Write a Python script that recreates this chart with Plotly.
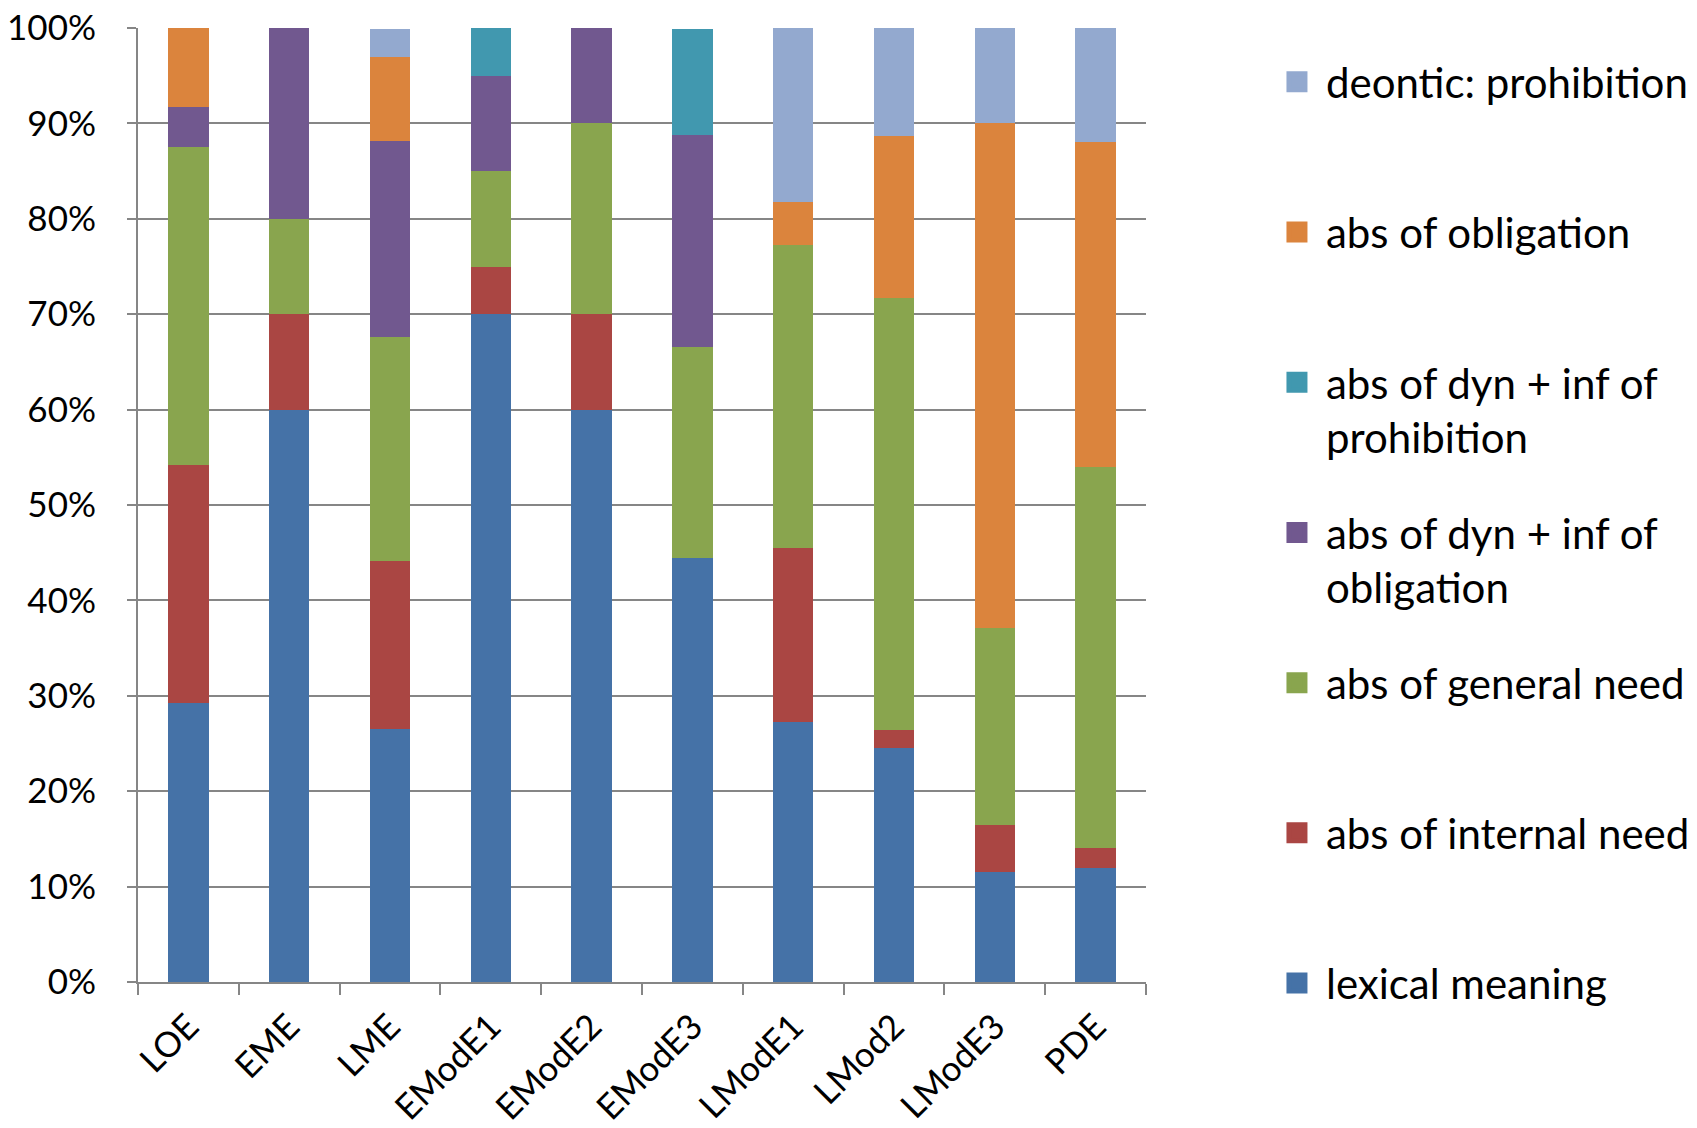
import plotly.graph_objects as go

# Periods (x categories)
categories = ["LOE", "EME", "LME", "EModE1", "EModE2", "EModE3",
              "LModE1", "LMod2", "LModE3", "PDE"]

# Share of each reading per period, in percent (stack order bottom -> top)
lexical_meaning = [29.2, 60.0, 26.5, 70.0, 60.0, 44.4, 27.3, 24.5, 11.5, 12.0]
abs_internal_need = [25.0, 10.0, 17.6, 5.0, 10.0, 0.0, 18.2, 1.9, 5.0, 2.0]
abs_general_need = [33.3, 10.0, 23.5, 10.0, 20.0, 22.2, 31.8, 45.3, 20.6, 40.0]
abs_dyn_inf_obligation = [4.2, 20.0, 20.6, 10.0, 10.0, 22.2, 0.0, 0.0, 0.0, 0.0]
abs_dyn_inf_prohibition = [0.0, 0.0, 0.0, 5.0, 0.0, 11.1, 0.0, 0.0, 0.0, 0.0]
abs_obligation = [8.3, 0.0, 8.8, 0.0, 0.0, 0.0, 4.5, 17.0, 52.9, 34.0]
deontic_prohibition = [0.0, 0.0, 2.9, 0.0, 0.0, 0.0, 18.2, 11.3, 10.0, 12.0]

y_ticks = [0, 10, 20, 30, 40, 50, 60, 70, 80, 90, 100]
y_tick_labels = [f"{t}%" for t in y_ticks]

series = [
    ("lexical meaning", lexical_meaning, "#4572A7"),
    ("abs of internal need", abs_internal_need, "#AA4643"),
    ("abs of general need", abs_general_need, "#89A54E"),
    ("abs of dyn + inf of<br>obligation", abs_dyn_inf_obligation, "#71588F"),
    ("abs of dyn + inf of<br>prohibition", abs_dyn_inf_prohibition, "#4198AF"),
    ("abs of obligation", abs_obligation, "#DB843D"),
    ("deontic: prohibition", deontic_prohibition, "#93A9CF"),
]

FONT = "Lato, 'Open Sans', sans-serif"
GRID = "#868686"

fig = go.Figure()
n = len(series)
for i, (name, vals, color) in enumerate(series):
    # stacked segments
    fig.add_trace(go.Bar(
        x=categories, y=vals, name=name,
        marker=dict(color=color, line=dict(width=0)),
        showlegend=False,
    ))

for i, (name, vals, color) in enumerate(series):
    # legend keys: large filled squares; single-line entries padded to two
    # lines so every legend row has the same height (bottom entry excepted)
    label = name if ("<br>" in name or i == 0) else name + "<br> "
    fig.add_trace(go.Scatter(
        x=[None], y=[None], mode="markers", name=label,
        marker=dict(symbol="square", size=16, color=color,
                    line=dict(color=color, width=5)),
        legendgroup=f"g{i}",
        legendrank=100 * (n - i),
        hoverinfo="skip",
    ))

fig.update_layout(
    barmode="stack",
    bargap=0.6,
    width=1697, height=1128,
    margin=dict(l=138, r=551, t=28, b=146, autoexpand=False),
    paper_bgcolor="white", plot_bgcolor="white",
    font=dict(family=FONT, size=34, color="black"),
    legend=dict(
        traceorder="grouped",
        tracegroupgap=38,
        valign="top",
        itemwidth=48,
        x=1.121, xanchor="left",
        y=0.979, yanchor="top",
        maxheight=1100,
        font=dict(family=FONT, size=42, color="black"),
        bgcolor="rgba(0,0,0,0)",
    ),
    xaxis=dict(
        showgrid=False,
        showline=True, linecolor=GRID, linewidth=2,
        ticks="outside", tickson="boundaries", ticklen=11,
        tickcolor=GRID, tickwidth=2,
        tickangle=-45,
        ticklabelstandoff=8,
        tickfont=dict(family=FONT, size=35, color="black"),
    ),
    yaxis=dict(
        range=[0, 100],
        tickvals=y_ticks, ticktext=y_tick_labels,
        showgrid=True, gridcolor=GRID, gridwidth=2,
        showline=True, linecolor=GRID, linewidth=2,
        ticks="outside", ticklen=9, tickcolor=GRID, tickwidth=2,
        ticklabelstandoff=24,
        zeroline=False,
        tickfont=dict(family=FONT, size=35, color="black"),
    ),
)

fig.write_html("out.html")
